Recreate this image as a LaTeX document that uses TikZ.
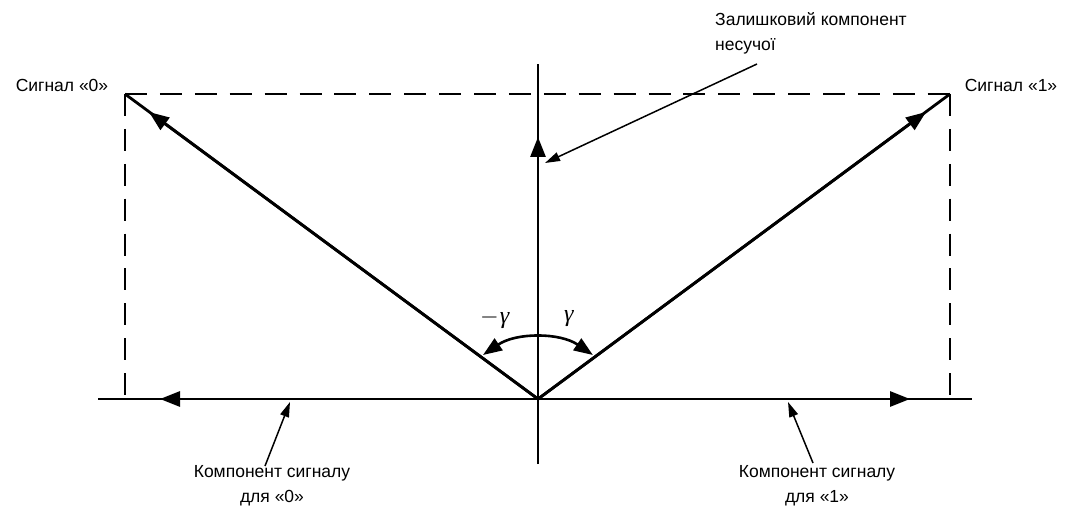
\RequirePackage{fix-cm}
\documentclass[tikz,border=0pt]{standalone}
\usepackage{fontspec}
\setmainfont{Liberation Sans}
\newfontfamily\gfont{Liberation Serif}
\usetikzlibrary{arrows.meta}
\begin{document}
\begin{tikzpicture}[x=1pt,y=-1pt,
  axis/.style={line width=2.8pt},
  vec/.style={line width=2.8pt,-{Triangle[length=20pt,width=15pt]}},
  guide/.style={line width=2.6pt,dash pattern=on 22pt off 12.9pt},
  note/.style={line width=1.5pt,-{Triangle[length=15pt,width=9pt]}},
  lbl/.style={font=\fontsize{17.5}{25}\selectfont, inner sep=0pt},
  mlbl/.style={font=\gfont\fontsize{24}{28}\selectfont, inner sep=0pt}]
\useasboundingbox (0,0) rectangle (1070,510);
\coordinate (O) at (538,399);
\coordinate (S0) at (125,94);
\coordinate (S1) at (950,94);
\coordinate (P0) at (125,399);
\coordinate (P1) at (950,399);
\coordinate (XL) at (98,399);
\coordinate (XR) at (972,399);
\coordinate (YT) at (538,64);
\coordinate (YB) at (538,464);
\coordinate (T0) at (149,112);
\coordinate (T1) at (926,112);
\coordinate (H0) at (160,399);
\coordinate (H1) at (910,399);
\coordinate (V) at (538,137);
\coordinate (A0) at (483,355);
% dashed projections
\draw[guide] (S0) -- (S1);
\draw[guide] (S0) -- (P0);
\draw[guide] (S1) -- (P1);
% axes
\draw[axis] (XL) -- (XR);
\draw[axis] (YB) -- (YT);
% vectors
\draw[axis] (O) -- (S0);
\draw[axis] (O) -- (S1);
\draw[vec] (O) -- (T0);
\draw[vec] (O) -- (T1);
\draw[vec] (O) -- (H0);
\draw[vec] (O) -- (H1);
\draw[vec] (O) -- (V);
% angle
\draw[line width=2.6pt,{Triangle[length=19pt,width=14pt]}-{Triangle[length=19pt,width=14pt]}]
  (A0) arc[start angle=-124.3,end angle=-55.7,radius=97.5];
\node[mlbl] (gm) at (495,319) {$-$\kern1pt\textit{γ}};
\node[mlbl] (gp) at (569,319) {\textit{γ}};
% labels
\node[lbl] (s0) at (62,85) {Сигнал «0»};
\node[lbl] (s1) at (1011,85) {Сигнал «1»};
\node[lbl,align=left,anchor=north west] (rc) at (715,12) {Залишковий компонент\\несучої};
\node[lbl,align=center,anchor=north] (c0) at (272,465) {Компонент сигналу\\для «0»};
\node[lbl,align=center,anchor=north] (c1) at (817,465) {Компонент сигналу\\для «1»};
% annotation arrows
\coordinate (rcT) at (757,64);
\coordinate (rcH) at (545,163);
\coordinate (c0T) at (265,466);
\coordinate (c0H) at (290,402);
\coordinate (c1T) at (813,463);
\coordinate (c1H) at (788,402);
\draw[note] (rcT) -- (rcH);
\draw[note] (c0T) -- (c0H);
\draw[note] (c1T) -- (c1H);
\end{tikzpicture}
\end{document}
